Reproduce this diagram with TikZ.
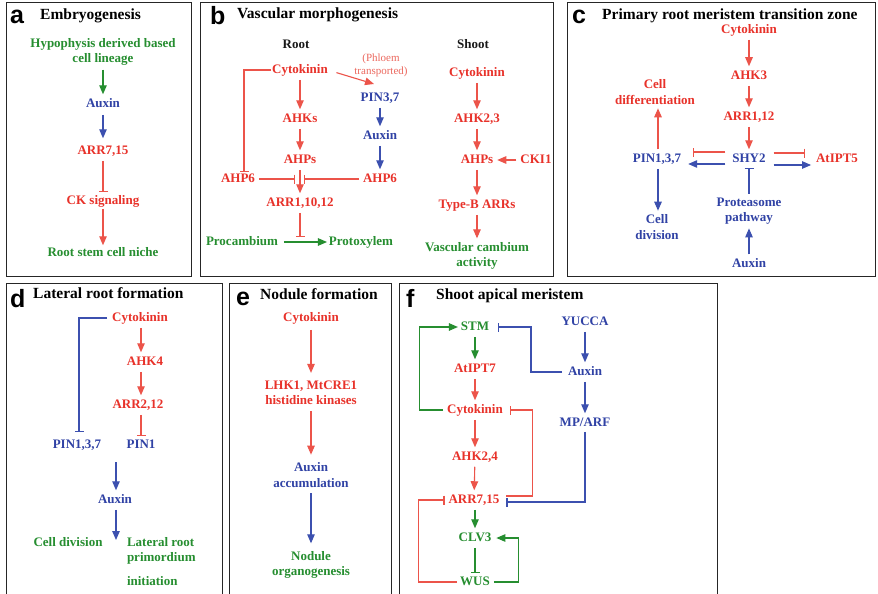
\documentclass[tikz,border=0pt]{standalone}
\usepackage{fontspec}
\setmainfont{Liberation Serif}
\newfontfamily\letterfont{Liberation Sans}
\usetikzlibrary{arrows.meta}
\definecolor{cred}{RGB}{232,50,42}
\definecolor{lred}{RGB}{236,84,74}
\definecolor{cblue}{RGB}{48,66,165}
\definecolor{lblue}{RGB}{60,80,175}
\definecolor{cgreen}{RGB}{38,142,48}
\definecolor{csalmon}{RGB}{236,105,95}
\begin{document}
\begin{tikzpicture}[x=1pt,y=-1pt,
  base/.style={inner sep=0pt,outer sep=0pt,font=\bfseries\fontsize{13}{15.5}\selectfont,align=center},
  one/.style={base,text height=9pt,text depth=2.5pt},
  R/.style={one,text=cred}, B/.style={one,text=cblue}, G/.style={one,text=cgreen},
  K/.style={one,text=black!90,font=\bfseries\fontsize{13}{15}\selectfont},
  R2/.style={base,text=cred}, B2/.style={base,text=cblue}, G2/.style={base,text=cgreen},
  ttl/.style={inner sep=0pt,anchor=base west,font=\bfseries\fontsize{15.5}{18}\selectfont},
  letter/.style={inner sep=0pt,anchor=base west,font=\letterfont\bfseries\fontsize{25}{25}\selectfont},
  panel/.style={draw=black!85,line width=1pt},
  ar/.style={line width=1.1pt,-{Triangle[length=9pt,width=7.5pt]},shorten <=4pt,shorten >=4pt},
  inh/.style={line width=1.1pt,-{Bar[width=9pt]},shorten <=4pt,shorten >=3pt},
]
\useasboundingbox (0,0) rectangle (878,594);
\fill[white] (0,0) rectangle (878,594);
% panels
\draw[panel] (6,3) rectangle (191,276);
\draw[panel] (200,3) rectangle (553,276);
\draw[panel] (567,3) rectangle (875,276);
\draw[panel] (6,283) rectangle (222,600);
\draw[panel] (229,283) rectangle (391,600);
\draw[panel] (399,283) rectangle (717,600);
% letters and titles
\node[letter] (La) at (10,24) {a};
\node[letter] (Lb) at (210,25) {b};
\node[letter] (Lc) at (572,24) {c};
\node[letter] (Ld) at (10,307) {d};
\node[letter] (Le) at (236,305) {e};
\node[letter] (Lf) at (406,307) {f};
\node[ttl] (Ta) at (40,20) {Embryogenesis};
\node[ttl] (Tb) at (237,19) {Vascular morphogenesis};
\node[ttl] (Tc) at (602,20) {Primary root meristem transition zone};
\node[ttl] (Td) at (33,298) {Lateral root formation};
\node[ttl] (Te) at (260,299) {Nodule formation};
\node[ttl] (Tf) at (436,299) {Shoot apical meristem};

% ---------- panel a
\node[G2] (a1) at (103,52) {Hypophysis derived based\\cell lineage};
\node[B] (a2) at (103,104) {Auxin};
\node[R] (a3) at (103,151) {ARR7,15};
\node[R] (a4) at (103,201) {CK signaling};
\node[G] (a5) at (103,253) {Root stem cell niche};
\draw[ar,cgreen] (a1) -- (a2);
\draw[ar,lblue,shorten <=5pt,shorten >=7pt] (a2) -- (a3);
\draw[inh,lred,shorten >=3pt] (a3) -- (a4);
\draw[ar,lred,shorten <=2pt,shorten >=2pt] (a4) -- (a5);

% ---------- panel b
\node[K] (broot) at (296,45) {Root};
\node[K] (bshoot) at (473,45) {Shoot};
\node[R] (bck) at (300,70) {Cytokinin};
\node[text=csalmon,inner sep=0pt,font=\fontsize{11}{13}\selectfont,align=center] (bph) at (381,65) {(Phloem\\transported)};
\node[B] (bpin) at (380,98) {PIN3,7};
\node[R] (bahks) at (300,119) {AHKs};
\node[B] (baux) at (380,136) {Auxin};
\node[R] (bahps) at (300,160) {AHPs};
\node[R] (bl6) at (238,179) {AHP6};
\node[R] (br6) at (380,179) {AHP6};
\node[R] (barr) at (300,203) {ARR1,10,12};
\node[G] (bproc) at (242,242) {Procambium};
\node[G] (bprot) at (361,242) {Protoxylem};
\coordinate (bpt) at (374,84);
\coordinate (bjl) at (295,179);
\coordinate (bjr) at (304,179);
\coordinate (bpj) at (300,237);
\draw[ar,lred] (bck) -- (bahks);
\draw[ar,lred] (bahks) -- (bahps);
\draw[ar,lred] (bahps) -- (barr);
\draw[ar,lred,shorten <=9pt,shorten >=0pt] (bck.east) -- (bpt);
\draw[ar,lblue] (bpin) -- (baux);
\draw[ar,lblue] (baux) -- (br6);
\draw[inh,lred,shorten >=0pt] (bl6) -- (bjl);
\draw[inh,lred,shorten >=0pt] (br6) -- (bjr);
\draw[inh,lred,shorten <=1pt,shorten >=1pt] (bck.west) -| ([xshift=6pt]bl6.north);
\draw[inh,lred,shorten >=0pt] (barr) -- (bpj);
\draw[ar,cgreen,shorten <=6pt,shorten >=2pt] (bproc) -- (bprot);
% shoot
\node[R] (sck) at (477,73) {Cytokinin};
\node[R] (sahk) at (477,119) {AHK2,3};
\node[R] (sahp) at (477,160) {AHPs};
\node[R] (scki) at (536,160) {CKI1};
\node[R] (styp) at (477,205) {Type-B ARRs};
\node[G2] (svca) at (477,256) {Vascular cambium\\activity};
\draw[ar,lred] (sck) -- (sahk);
\draw[ar,lred] (sahk) -- (sahp);
\draw[ar,lred] (scki) -- (sahp);
\draw[ar,lred] (sahp) -- (styp);
\draw[ar,lred] (styp) -- (svca);

% ---------- panel c
\node[R] (cck) at (749,30) {Cytokinin};
\node[R] (cahk) at (749,76) {AHK3};
\node[R] (carr) at (749,117) {ARR1,12};
\node[B] (cshy) at (749,159) {SHY2};
\node[B] (cpin) at (657,159) {PIN1,3,7};
\node[R2] (ccd) at (655,92) {Cell\\differentiation};
\node[B2] (cdiv) at (657,227) {Cell\\division};
\node[R] (cipt) at (837,159) {AtIPT5};
\node[B2] (cprot) at (749,211) {Proteasome\\pathway};
\node[B] (caux) at (749,264) {Auxin};
\draw[ar,lred] (cck) -- (cahk);
\draw[ar,lred] (cahk) -- (carr);
\draw[ar,lred] (carr) -- (cshy);
\draw[ar,lred] ([xshift=1pt]cpin.north) -- ([xshift=1pt]cpin.north |- ccd.south);
\draw[ar,lblue] ([xshift=1pt]cpin.south) -- ([xshift=1pt]cpin.south |- cdiv.north);
\draw[inh,lred,shorten <=7pt,shorten >=12pt] ([yshift=7pt]cshy.west) -- ([yshift=7pt]cpin.east);
\draw[ar,lblue,shorten <=7pt,shorten >=7pt] ([yshift=-5pt]cshy.west) -- ([yshift=-5pt]cpin.east);
\draw[inh,lred,shorten <=8pt,shorten >=11pt] ([yshift=6pt]cshy.east) -- ([yshift=6pt]cipt.west);
\draw[ar,lblue,shorten <=8pt,shorten >=5pt] ([yshift=-6pt]cshy.east) -- ([yshift=-6pt]cipt.west);
\draw[inh,lblue] (cprot) -- (cshy);
\draw[ar,lblue] (caux) -- (cprot);

% ---------- panel d
\node[R] (dck) at (140,318) {Cytokinin};
\node[R] (dahk) at (145,362) {AHK4};
\node[R] (darr) at (138,405) {ARR2,12};
\node[B] (dpin1) at (141,445) {PIN1};
\node[B] (dpin3) at (77,445) {PIN1,3,7};
\node[B] (daux) at (115,500) {Auxin};
\node[G] (dcd) at (68,543) {Cell division};
\node[G,anchor=west] (dlr1) at (127,543) {Lateral root};
\node[G,anchor=west] (dlr2) at (127,558) {primordium};
\node[G,anchor=west] (dlr3) at (127,582) {initiation};
\coordinate (dpj) at (116,462);
\coordinate (dsp) at (116,540);
\draw[ar,lred] (dck.south -| dpin1) -- (dahk.north -| dpin1);
\draw[ar,lred] (dahk.south -| dpin1) -- (darr.north -| dpin1);
\draw[inh,lred] (darr.south -| dpin1) -- (dpin1.north);
\draw[inh,lblue,shorten <=5pt,shorten >=7pt] (dck.west) -| ([xshift=2pt]dpin3.north);
\draw[ar,lblue,shorten <=0pt] (dpj) -- (dpj |- daux.north);
\draw[ar,lblue,shorten >=0pt] (daux.south -| dsp) -- (dsp);

% ---------- panel e
\node[R] (eck) at (311,318) {Cytokinin};
\node[R2] (elhk) at (311,393) {LHK1, MtCRE1\\histidine kinases};
\node[B2] (eaux) at (311,475) {Auxin\\accumulation};
\node[G2] (enod) at (311,565) {Nodule\\organogenesis};
\draw[ar,lred,shorten <=6pt,shorten >=8pt] (eck) -- (elhk);
\draw[ar,lred,shorten <=6pt,shorten >=8pt] (elhk) -- (eaux);
\draw[ar,lblue,shorten <=6pt,shorten >=8pt] (eaux) -- (enod);

% ---------- panel f
\node[G] (fstm) at (475,327) {STM};
\node[B] (fyuc) at (585,322) {YUCCA};
\node[R] (fipt) at (475,369) {AtIPT7};
\node[R] (fck) at (475,410) {Cytokinin};
\node[R] (fahk) at (475,457) {AHK2,4};
\node[R] (farr) at (474,500) {ARR7,15};
\node[G] (fclv) at (475,538) {CLV3};
\node[G] (fwus) at (475,582) {WUS};
\node[B] (faux) at (585,372) {Auxin};
\node[B] (fmp) at (585,423) {MP/ARF};
\draw[ar,cgreen] (fstm) -- (fipt);
\draw[ar,lred] (fipt) -- (fck);
\draw[ar,lred] (fck) -- (fahk);
\draw[ar,lred] (fahk) -- (farr);
\draw[ar,cgreen] (farr.south -| fclv) -- (fclv);
\draw[inh,cgreen] (fclv) -- (fwus);
\draw[ar,lblue] (fyuc) -- (faux);
\draw[ar,lblue] (faux) -- (fmp);
\draw[inh,lblue,shorten <=6pt,shorten >=9pt] (faux.west) -- ++(-37,0) |- (fstm.east);
\draw[ar,cgreen,shorten <=4pt,shorten >=3pt] (fck.west) -- ++(-28,0) |- (fstm.west);
\draw[inh,lred,shorten <=7pt,shorten >=7pt] ([yshift=4pt]farr.east) -- ++(33,0) |- (fck.east);
\draw[inh,lblue,shorten <=3pt,shorten >=7pt] (fmp.south) |- ([yshift=-2pt]farr.east);
\draw[inh,lred,shorten <=3pt,shorten >=4pt] (fwus.west) -- ++(-42,0) |- (farr.west);
\draw[ar,cgreen,shorten <=4pt,shorten >=5pt] (fwus.east) -- ++(29,0) |- (fclv.east);
\end{tikzpicture}
\end{document}
